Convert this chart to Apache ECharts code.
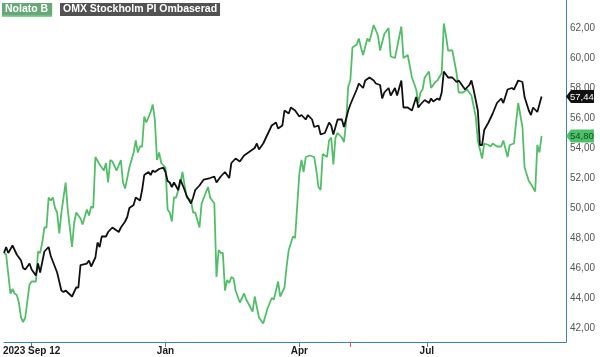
<!DOCTYPE html>
<html><head><meta charset="utf-8">
<script src="https://cdn.jsdelivr.net/npm/echarts@6/dist/echarts.min.js"></script>
<style>html,body{margin:0;padding:0;background:#fff}#c{width:600px;height:357px}</style>
</head><body><div id="c"></div>
<script>
// trading-day index (0 = 2023 Sep 12) and closing values
const omxDays = [0,1,2,4,6,8,9,10,12,13,15,16,17,19,21,22,25,27,28,29,32,34,35,36,39,40,41,43,44,45,46,48,49,51,53,54,55,57,58,59,61,62,64,65,66,68,69,70,71,73,75,76,77,78,79,80,82,83,85,86,88,89,90,92,94,97,99,100,102,104,105,106,107,109,111,113,115,118,119,120,122,124,126,128,129,131,132,134,135,137,139,140,142,143,145,146,148,149,151,153,154,155,157,159,160,162,163,166,167,169,170,172,174,175,177,178,179,181,182,184,185,187,188,190,192,194,195,196,198,200,201,202,204,205,206,207,209,211,213,214,216,217,219,220,221,223,224,225,226,228,230,232,234,235,237,239,240,242,244,245,247,248,249,251,253];
const omxValues = [47.0,47.4,47.0,47.5,46.9,46.5,46.0,45.9,46.3,45.9,45.5,46.3,45.7,47.1,47.4,46.8,45.7,44.5,44.4,44.5,44.1,44.7,44.7,46.2,46.3,46.5,46.1,46.7,47.7,47.4,48.1,48.1,48.4,48.7,48.5,48.4,48.7,49.1,49.4,50.0,50.2,50.7,50.5,51.2,52.2,52.4,52.2,52.5,52.4,52.6,52.7,52.4,51.8,51.7,51.4,51.7,51.2,51.9,51.2,50.8,50.3,50.7,51.2,51.5,51.9,52.0,52.1,51.7,52.1,52.4,52.2,52.0,53.0,53.3,53.1,53.5,53.7,54.0,54.3,53.9,54.3,54.9,55.5,55.7,55.3,55.5,56.5,56.3,56.7,56.5,56.1,56.2,55.9,56.2,55.9,55.4,55.5,54.9,55.0,55.7,55.5,54.9,55.9,55.9,55.4,56.5,56.9,57.9,58.3,58.0,58.5,58.7,58.5,58.3,58.2,57.3,57.7,58.0,57.5,58.0,57.5,58.5,56.7,56.7,56.5,57.4,56.7,56.9,57.2,57.0,57.3,57.1,57.3,57.2,57.7,59.1,58.7,58.7,58.4,58.5,58.1,57.9,58.2,58.5,57.9,56.5,54.2,54.2,55.2,55.7,56.3,57.0,57.3,57.0,57.9,58.0,57.9,58.5,58.4,57.4,56.5,56.2,56.7,56.4,57.44];
const nolatoDays = [0,1,3,4,5,6,7,8,9,10,12,13,15,16,17,18,19,20,21,22,23,24,25,26,27,29,30,32,33,34,36,37,39,40,41,42,43,45,47,48,49,50,51,53,55,56,57,59,61,62,63,64,65,66,67,69,70,71,72,73,74,76,77,78,79,80,81,83,84,85,86,88,89,90,92,93,96,97,99,100,101,102,103,104,105,106,107,108,109,111,112,113,114,117,118,120,122,124,126,127,129,130,132,133,134,136,137,139,140,141,142,144,146,147,148,149,150,152,153,154,155,156,157,159,160,161,162,163,164,166,167,168,169,171,172,174,176,177,179,181,182,184,185,187,188,190,192,194,195,196,197,198,200,201,203,204,206,207,208,209,211,213,214,216,218,220,222,223,225,226,228,229,230,232,234,235,237,238,240,241,242,244,245,247,248,250,251,252,253];
const nolatoValues = [47.0,46.9,44.3,44.6,44.3,44.2,43.7,42.7,42.4,42.7,44.9,45.1,45.1,47.1,47.0,47.7,48.7,48.7,50.7,50.5,50.7,50.0,49.7,48.3,49.7,51.7,49.9,47.4,49.0,49.7,49.3,48.9,49.9,49.5,50.1,50.0,53.4,52.9,52.5,53.0,51.7,53.2,53.1,52.5,53.2,51.7,51.3,52.7,53.7,54.5,53.7,54.1,54.1,56.1,55.7,56.4,56.9,55.9,53.2,53.7,53.0,52.7,49.9,49.7,49.1,50.7,50.7,51.7,52.4,51.5,50.7,50.5,49.7,49.7,48.7,50.3,51.4,50.7,50.3,45.4,47.2,47.0,47.0,44.5,45.2,45.0,45.4,45.3,44.5,43.7,44.0,44.3,43.9,43.1,44.1,42.7,42.3,43.3,44.0,43.9,45.1,44.1,44.7,46.1,47.2,48.1,48.0,52.3,53.2,52.4,53.4,53.5,53.4,52.5,51.4,51.2,53.6,53.4,54.5,54.7,52.9,54.7,55.0,54.7,54.4,55.7,58.1,58.5,60.7,60.9,61.3,60.7,60.2,61.3,61.1,62.2,61.5,60.5,61.6,62.0,60.1,60.0,60.7,62.1,60.0,60.2,58.7,57.9,57.0,57.7,57.9,58.7,59.1,58.0,58.4,58.5,59.0,62.3,61.5,60.5,60.5,59.0,57.7,57.7,57.9,57.5,56.1,54.5,53.3,54.3,54.2,54.1,54.3,54.1,54.1,54.5,53.4,54.2,54.3,55.7,57.0,55.4,52.7,51.8,51.6,51.1,54.2,53.7,54.8];
const yTicks = [42,44,46,48,50,52,54,56,58,60,62];
const xTickDays = [13,76,139,199];
const xTickLabels = ['2023 Sep 12','Jan','Apr','Jul'];
const eventDays = [163];
const seriesNames = ['Nolato B','OMX Stockholm PI Ombaserad'];
const lastOmx = 57.44, lastNolato = 54.80;

const GREEN = '#52bf68', BLACK = '#111111', AXIS = '#3c84ab';
const FONT = 'Liberation Sans, Arial, sans-serif';
const fmt = v => v.toFixed(2).replace('.', ',');
const chart = echarts.init(document.getElementById('c'), null, {renderer:'canvas'});
const option = {
  animation:false,
  grid:{left:0,right:34,top:0,bottom:15,containLabel:false},
  xAxis:[{
    type:'value', min:0, max:264.5, position:'bottom',
    axisLine:{show:true,onZero:false,lineStyle:{color:AXIS,width:1}},
    axisTick:{show:true,customValues:xTickDays,length:5,lineStyle:{color:AXIS}},
    axisLabel:{customValues:xTickDays,margin:4,fontSize:10,fontWeight:'bold',color:'#1a1a1a',fontFamily:FONT,
      formatter:v=>{const i=xTickDays.indexOf(Math.round(v));return i>=0?xTickLabels[i]:'';}},
    splitLine:{show:false}
  },{
    type:'value', min:0, max:264.5, position:'bottom',
    axisLine:{show:false,onZero:false},
    axisTick:{show:true,customValues:eventDays,length:5,lineStyle:{color:'#e8585a',width:1}},
    axisLabel:{show:false}, splitLine:{show:false}
  }],
  yAxis:{
    type:'value', position:'right', min:41.067, max:63.867,
    axisLine:{show:true,onZero:false,lineStyle:{color:AXIS,width:1}},
    axisTick:{show:false},
    axisLabel:{customValues:yTicks,margin:4,fontSize:10,color:'#555',fontFamily:FONT,formatter:v=>fmt(v)},
    splitLine:{show:false}
  },
  series:[
    {name:seriesNames[0],type:'line',showSymbol:false,symbol:'none',lineStyle:{color:GREEN,width:1.8},
     data:nolatoDays.map((d,i)=>[d,nolatoValues[i]])},
    {name:seriesNames[1],type:'line',showSymbol:false,symbol:'none',lineStyle:{color:BLACK,width:1.8},
     data:omxDays.map((d,i)=>[d,omxValues[i]])}
  ]
};
chart.setOption(option);

function tag(value, bg, fg){
  const y = chart.convertToPixel({yAxisIndex:0}, value);
  const x0 = 566;
  return [
    {type:'polygon',z:100,shape:{points:[[x0,y],[x0+5,y-6.5],[x0+28,y-6.5],[x0+28,y+6.5],[x0+5,y+6.5]]},style:{fill:bg}},
    {type:'text',z:101,x:x0+4,y:y+0.5,style:{text:fmt(value),fill:fg,font:'9.5px '+FONT,verticalAlign:'middle',align:'left'}}
  ];
}
chart.setOption({graphic:[
  {type:'text',left:2,top:3,z:100,style:{text:seriesNames[0],fill:'#fff',font:'bold 10.5px '+FONT,backgroundColor:'#67a878',padding:[1,4,1,3]}},
  {type:'rect',left:2,top:15.5,z:100,shape:{width:50,height:1.5},style:{fill:'#7fd88e'}},
  {type:'text',left:60,top:3,z:100,style:{text:seriesNames[1],fill:'#fff',font:'bold 10.5px '+FONT,backgroundColor:'#525252',padding:[1,3,1,3]}},
  ...tag(lastOmx,'#111','#fff'),
  ...tag(lastNolato,'#4fc06a','#12501f')
]});
</script></body></html>
